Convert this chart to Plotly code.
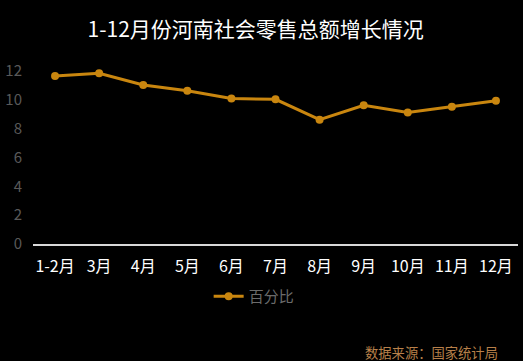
import plotly.graph_objects as go

months = ["1-2月", "3月", "4月", "5月", "6月", "7月", "8月", "9月", "10月", "11月", "12月"]
growth = [11.67, 11.85, 11.04, 10.65, 10.1, 10.05, 8.63, 9.63, 9.14, 9.54, 9.95]
y_ticks = [0, 2, 4, 6, 8, 10, 12]

title_text = "1-12月份河南社会零售总额增长情况"
series_name = "百分比"
source_text = "数据来源：国家统计局"

FONT = "Noto Sans CJK SC"
LINE = "#C9860F"

fig = go.Figure()
fig.add_trace(go.Scatter(
    x=months, y=growth, name=series_name, mode="lines+markers",
    line=dict(color=LINE, width=3),
    marker=dict(color=LINE, size=8),
    cliponaxis=False,
))

fig.update_layout(
    width=523, height=361,
    paper_bgcolor="black", plot_bgcolor="black",
    margin=dict(l=33, r=5, t=63, b=117),
    title=dict(text=title_text, x=0.489, xanchor="center", y=0.918, yanchor="middle",
               font=dict(family=FONT, size=21, color="white")),
    font=dict(family=FONT),
    showlegend=True,
    legend=dict(orientation="h", x=0.456, xanchor="center", y=-0.29, yanchor="middle",
                font=dict(family=FONT, size=15, color="#6b6b6b"),
                bgcolor="rgba(0,0,0,0)"),
    xaxis=dict(showgrid=False, showline=True, linecolor="#d9d9d9", linewidth=1.5,
               ticks="", ticklabelstandoff=7,
               tickfont=dict(family=FONT, size=16, color="white"),
               zeroline=False, range=[-0.5, 10.5]),
    yaxis=dict(showgrid=False, showline=False, zeroline=False, range=[0, 12.57],
               tickvals=y_ticks, ticks="", ticklabelstandoff=10,
               tickfont=dict(family=FONT, size=15, color="#595959")),
    annotations=[dict(text=source_text, xref="paper", yref="paper",
                      x=0.962, xanchor="right", y=-0.6, yanchor="middle",
                      showarrow=False,
                      font=dict(family=FONT, size=13.3, color="#B8804A"))],
)

fig.write_html(
    "out.html",
    config={"displayModeBar": False},
    post_script="document.body.style.margin='0';document.body.style.overflow='hidden';document.body.style.background='black';",
)
